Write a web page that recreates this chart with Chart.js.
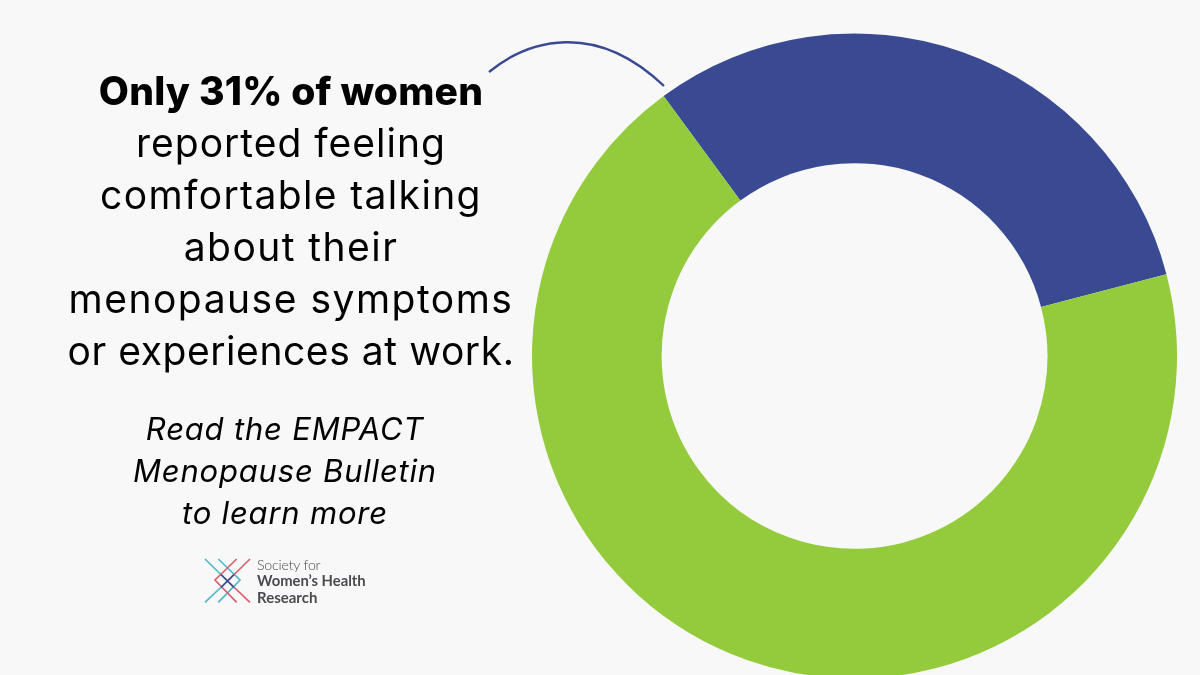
<!DOCTYPE html>
<html><head><meta charset="utf-8">
<script src="https://cdn.jsdelivr.net/npm/chart.js@4"></script>
<style>
html,body{margin:0;padding:0;width:1200px;height:675px;overflow:hidden;background:#f8f8f8;}
#wrap{position:absolute;left:0;top:0;width:1200px;height:712px;}
.t{position:absolute;white-space:nowrap;text-align:center;color:#000;font-family:Inter,sans-serif;transform:translateX(-50%);}
.m{font-size:39px;line-height:52px;left:291px;}
.i{font-size:31px;line-height:42px;left:285px;font-style:italic;letter-spacing:.8px;}
svg{position:absolute;left:0;top:0;}
.l{position:absolute;left:257px;font-family:Lato,sans-serif;color:#4a4a4f;white-space:nowrap;line-height:17px;}
</style></head><body>
<div id="wrap"><canvas id="c"></canvas></div>
<svg width="1200" height="675" fill="none">
<path d="M489 72 C528 40 595 20 664 86" stroke="#3a4a92" stroke-width="2.4"/>
<g stroke-width="1.7">
<path d="M205 559 L227.5 581" stroke="#4fb9c9"/>
<path d="M227.5 581 L250 602.3" stroke="#d9606e"/>
<path d="M218.3 559 L240 580 L218.3 602.3" stroke="#4fb9c9"/>
<path d="M236.7 559 L215 580 L236.7 602.3" stroke="#d9606e"/>
<path d="M250 559 L227.5 581" stroke="#d9606e"/>
<path d="M227.5 581 L205 602.3" stroke="#4fb9c9"/>
<path d="M221 574.5 L234 587.5 M234 574.5 L221 587.5" stroke="#3a4a92"/>
</g></svg>
<div class="t m" style="top:65px;font-weight:800;letter-spacing:.2px">Only 31% of women</div>
<div class="t m" style="top:117px;letter-spacing:1px">reported feeling</div>
<div class="t m" style="top:169px;letter-spacing:1.37px">comfortable talking</div>
<div class="t m" style="top:221px;letter-spacing:1.45px">about their</div>
<div class="t m" style="top:273px;letter-spacing:1.5px">menopause symptoms</div>
<div class="t m" style="top:325px;letter-spacing:.56px">or experiences at work.</div>
<div class="t i" style="top:408px">Read the EMPACT</div>
<div class="t i" style="top:450px">Menopause Bulletin</div>
<div class="t i" style="top:492px">to learn more</div>
<div class="l" style="top:556px;font-size:14.2px;font-weight:300;letter-spacing:-.2px">Society for</div>
<div class="l" style="top:572px;font-size:14.8px;font-weight:700">Women’s Health</div>
<div class="l" style="top:589px;font-size:15px;font-weight:700">Research</div>
<script>
const categories=["Comfortable talking at work","Not comfortable"];
const values=[31,69];
const colors=["#3a4a92","#94cb3d"];
new Chart(document.getElementById("c"),{type:"doughnut",
data:{labels:categories,datasets:[{data:values,backgroundColor:colors,borderWidth:0}]},
options:{responsive:true,maintainAspectRatio:false,animation:false,rotation:-36.3,cutout:"59.8%",
layout:{padding:{left:532,right:23,top:33.5,bottom:33.5}},
plugins:{legend:{display:false},tooltip:{enabled:false}}}});
</script>
</body></html>
